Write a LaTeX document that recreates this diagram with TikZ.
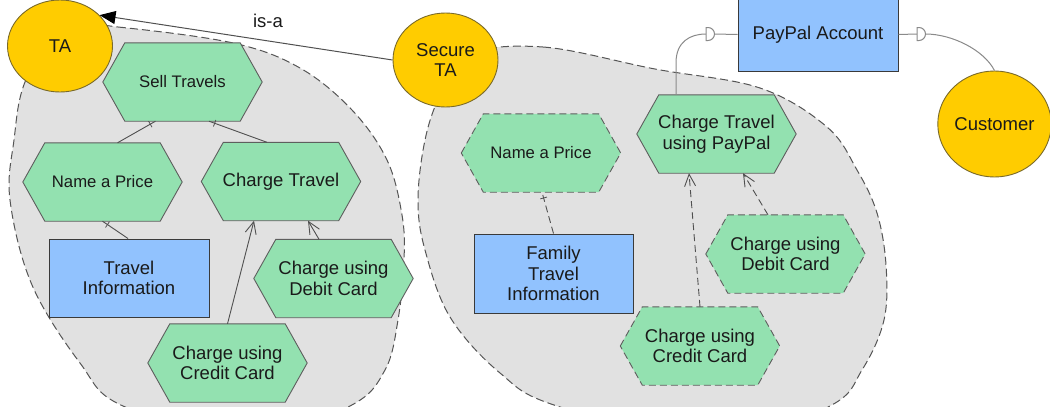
\documentclass[tikz,border=0pt]{standalone}
\usepackage{fontspec}
\setmainfont{Liberation Sans}
\usetikzlibrary{shapes.geometric,arrows.meta,decorations.markings}
\pgfdeclarelayer{blob}
\pgfdeclarelayer{hexlayer}
\pgfsetlayers{blob,hexlayer,main}
\definecolor{goalgreen}{HTML}{93E1B0}
\definecolor{resblue}{HTML}{91C2FE}
\definecolor{actoryellow}{HTML}{FFCC00}
\definecolor{actoredge}{HTML}{7A6A2A}
\definecolor{bggray}{HTML}{E1E1E1}
\definecolor{dashgray}{HTML}{555555}
\definecolor{edgegray}{HTML}{5E5E5E}
\definecolor{boxedge}{HTML}{3A3A3A}
\definecolor{textc}{HTML}{1A1A1A}
\definecolor{linkgray}{HTML}{505050}
\definecolor{depgray}{HTML}{8A8A8A}
\newcommand\hexat[5]{%
  \node[hexbox,#3] (#1) at (#2) {#5};
  \begin{pgfonlayer}{hexlayer}
    \path[hexshape,#4] (#1.west) -- ([xshift=22pt]#1.north west) -- ([xshift=-22pt]#1.north east)
      -- (#1.east) -- ([xshift=-22pt]#1.south east) -- ([xshift=22pt]#1.south west) -- cycle;
  \end{pgfonlayer}}
\tikzset{
  txt/.style={font=\fontsize{18.5}{20.5}\selectfont, text=textc, align=center},
  smalltxt/.style={font=\fontsize{16.7}{19}\selectfont, text=textc, align=center},
  hexbox/.style={rectangle, minimum width=159pt, minimum height=78pt, inner sep=0pt},
  hexshape/.style={fill=goalgreen, draw=edgegray, line width=0.9pt},
  hexdashed/.style={dash pattern=on 7pt off 4pt},
  infobox/.style={rectangle, draw=boxedge, fill=resblue, minimum width=160pt, minimum height=78pt, inner sep=0pt, line width=1pt, txt},
  actor/.style={ellipse, draw=actoredge, fill=actoryellow, inner sep=0pt, line width=0.9pt, txt},
  boundary/.style={fill=bggray, draw=dashgray, dash pattern=on 8pt off 4pt, line width=1pt},
  link/.style={draw=linkgray, line width=0.9pt},
  dlink/.style={link, dash pattern=on 7pt off 4pt},
  tick/.style={postaction={decorate}, decoration={markings,
      mark=at position -6pt with {\draw[linkgray, solid, line width=0.8pt] (0,-3.5pt) -- (0,3.5pt);}}},
  openarrow/.style={-{Straight Barb[length=12pt,width=11pt]}},
  dep/.style={draw=depgray, line width=1pt},
  dsym/.style={draw=depgray, fill=white, line width=1pt},
  isaline/.style={draw=linkgray, line width=1pt, -{Triangle[length=16pt,width=13pt,color=black,fill=black]}}
}
\begin{document}
\begin{tikzpicture}[x=1pt,y=-1pt]
\useasboundingbox (0,0) rectangle (1050,407);
% actor boundaries
\begin{pgfonlayer}{blob}
  \path[boundary] plot[smooth cycle, tension=0.6] coordinates {
    (60,25) (118,27) (233,43) (300,68) (352,110) (387,160) (402,215) (404,260)
    (398,320) (385,370) (350,406) (250,440) (123,406) (80,363) (32,285) (10,200)
    (14,140) (25,82)};
  \path[boundary] plot[smooth cycle, tension=0.6] coordinates {
    (465,55) (543,47) (655,69) (760,88) (827,127) (857,170) (877,213) (886,265)
    (884,320) (862,370) (830,406) (720,445) (557,406) (500,373) (450,317)
    (425,250) (418,200) (425,140) (440,95)};
\end{pgfonlayer}
% actors
\node[actor, minimum width=105pt, minimum height=92pt] (ta) at (60,46) {TA};
\node[actor, minimum width=105pt, minimum height=94pt] (secta) at (445.5,60) {Secure\\TA};
\node[actor, minimum width=112pt, minimum height=106pt] (cust) at (994.5,124) {Customer};
% left actor elements
\hexat{sell}{182.5,82}{smalltxt}{}{Sell Travels}
\hexat{lnap}{102.5,182}{smalltxt}{}{Name a Price}
\hexat{lct}{281,181.5}{txt}{}{Charge Travel}
\hexat{ldebit}{333.5,278.5}{txt}{}{Charge using\\Debit Card}
\hexat{lcredit}{227.5,363}{txt}{}{Charge using\\Credit Card}
\node[infobox] (tinfo) at (129,278) {Travel\\Information};
% right actor elements
\hexat{rnap}{541,153}{smalltxt}{hexdashed}{Name a Price}
\hexat{ctpp}{716.5,134}{txt}{}{Charge Travel\\using PayPal}
\hexat{rdebit}{785.5,254}{txt}{hexdashed}{Charge using\\Debit Card}
\hexat{rcredit}{700,346}{txt}{hexdashed}{Charge using\\Credit Card}
\node[infobox, minimum width=159pt, minimum height=79pt] (fti) at (553.5,273.5) {Family\\Travel\\Information};
\node[infobox, minimum height=73pt] (paypal) at (818,34.5) {PayPal Account};
% is-a link
\draw[isaline] (secta.west) -- (ta.38);
\node[txt] (isa) at (268,21) {is-a};
% decomposition links
\draw[link, tick] ([xshift=15pt]lnap.north) -- ([xshift=-27pt]sell.south);
\draw[link, tick] ([xshift=-14pt]lct.north) -- ([xshift=26.5pt]sell.south);
\draw[link, tick] ([xshift=-1pt]tinfo.north) -- (lnap.south);
\draw[dlink, tick] (fti.north) -- ([xshift=1pt]rnap.south);
% means-end links
\draw[link, openarrow] (lcredit.north) -- ([xshift=-27pt]lct.south);
\draw[link, openarrow] ([xshift=-14.5pt]ldebit.north) -- ([xshift=27pt]lct.south);
\draw[dlink, openarrow] (rcredit.north) -- ([xshift=-27.5pt]ctpp.south);
\draw[dlink, openarrow] ([xshift=-17.5pt]rdebit.north) -- ([xshift=26.5pt]ctpp.south);
% dependencies
\coordinate (d1) at (706,34);
\coordinate (d2) at (917,34);
\draw[dep] ([xshift=-40.5pt]ctpp.north) -- ++(0,-32) .. controls +(0,-21) and +(-16,0) .. (d1);
\path[dsym] (d1) ++(0,6.5) -- ++(2,0) arc[start angle=90, end angle=-90, radius=6.5] -- ++(-2,0) -- cycle;
\draw[dep] ([xshift=8.5pt]d1) -- (paypal.west);
\draw[dep] (paypal.east) -- (d2);
\path[dsym] (d2) ++(0,6.5) -- ++(2,0) arc[start angle=90, end angle=-90, radius=6.5] -- ++(-2,0) -- cycle;
\draw[dep] ([xshift=8.5pt]d2) .. controls (952,34) and (984,50) .. (cust.north);
\end{tikzpicture}
\end{document}
